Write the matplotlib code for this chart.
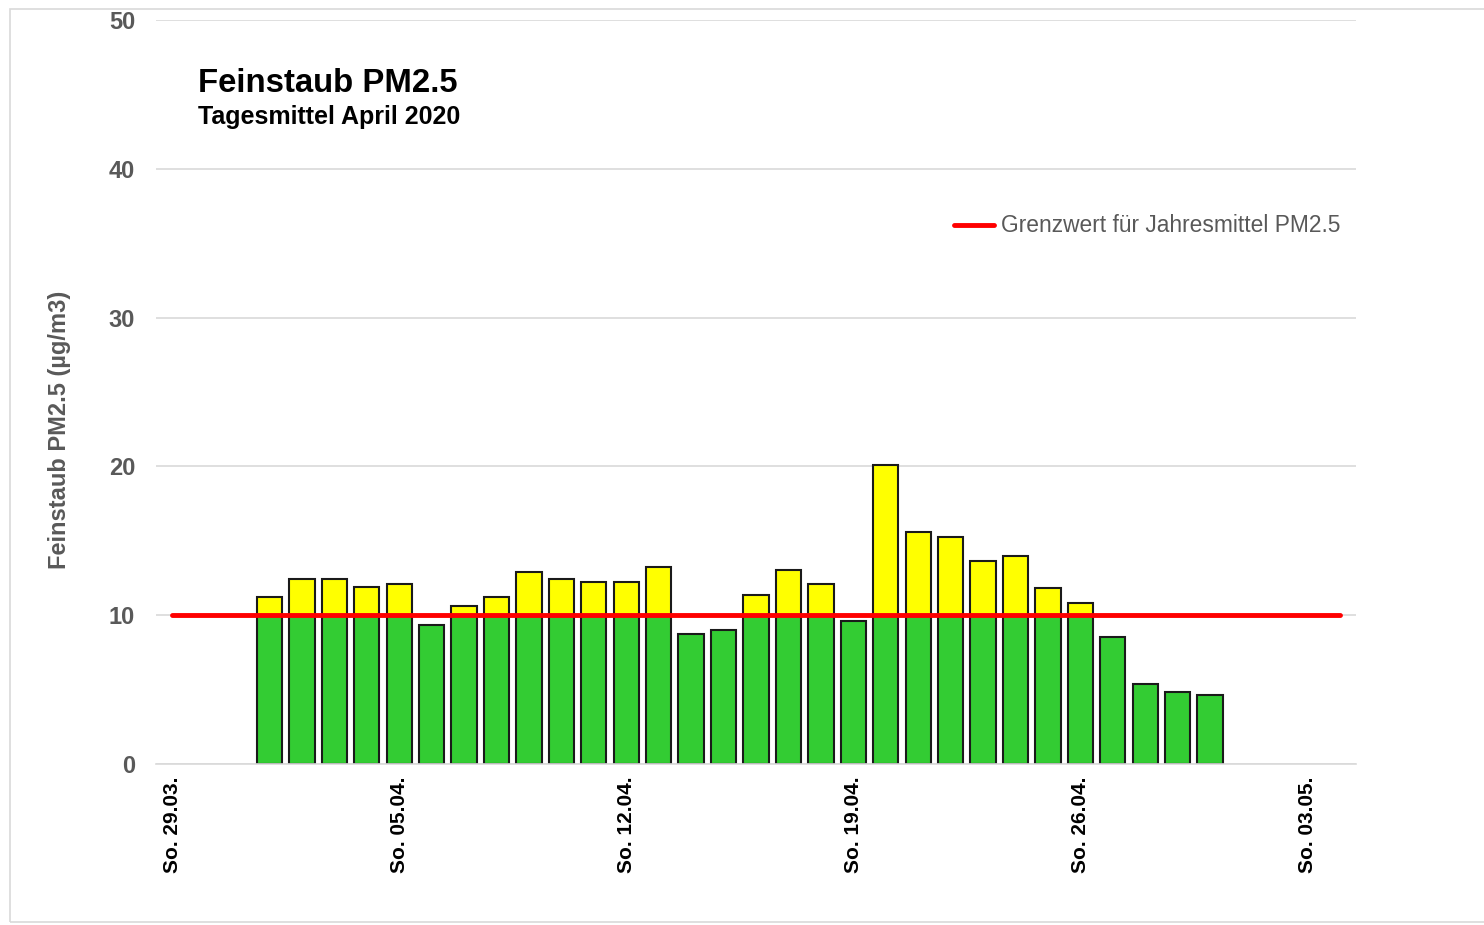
import matplotlib
matplotlib.use("Agg")
import matplotlib.pyplot as plt
from matplotlib.patches import Rectangle
import numpy as np

plt.rcParams['font.family'] = ['Liberation Sans', 'DejaVu Sans']

# --- data ---
# categories: every day from 29.03. to 04.05.
categories = ["29.03.", "30.03.", "31.03."] + \
             [f"{d:02d}.04." for d in range(1, 31)] + \
             ["01.05.", "02.05.", "03.05.", "04.05."]
weekday_prefix = "So. "

# daily means April 2020 (µg/m3), 01.04. - 30.04.
april_values = [11.25, 12.4, 12.4, 11.88, 12.08, 9.35, 10.6, 11.23, 12.93, 12.4,
                12.2, 12.2, 13.25, 8.72, 9.03, 11.37, 13.05, 12.1, 9.58, 20.1,
                15.56, 15.25, 13.67, 14.0, 11.8, 10.83, 8.52, 5.37, 4.86, 4.64]
values = [np.nan] * 3 + april_values + [np.nan] * 4

limit_value = 10.0
limit_label = "Grenzwert für Jahresmittel PM2.5"
title = "Feinstaub PM2.5"
subtitle = "Tagesmittel April 2020"
ylabel = "Feinstaub PM2.5 (µg/m3)"

# --- plot ---
fig = plt.figure(figsize=(14.84, 9.25), dpi=100)
ax = fig.add_axes([156 / 1484, 1 - 764 / 925, 1200 / 1484, 744 / 925])

# thin frame around the whole chart
fig.patches.append(Rectangle((10 / 1484, 3 / 925), 1.0, 913 / 925, transform=fig.transFigure,
                             fill=False, edgecolor="#D9D9D9", linewidth=1.2))

x = np.arange(len(categories))
vals = np.array(values, dtype=float)
green = np.minimum(vals, limit_value)
yellow = np.maximum(vals - limit_value, 0)

ax.bar(x, green, width=0.78, color="#33CC33", edgecolor="#1a1a1a", linewidth=1.5, zorder=2)
ax.bar(x, yellow, bottom=limit_value, width=0.78, color="#FFFF00", edgecolor="#1a1a1a",
       linewidth=1.5, zorder=2)

ax.plot(x, [limit_value] * len(x), color="#FF0000", linewidth=3.5, solid_capstyle="round",
        label=limit_label, zorder=3)

ax.set_xlim(-0.5, len(categories) - 0.5)
ax.set_ylim(0, 50)
ax.set_yticks([0, 10, 20, 30, 40, 50])
ax.yaxis.grid(True, color="#D9D9D9", linewidth=1.2, zorder=0)
ax.set_axisbelow(True)

tick_pos = x[::7]
ax.set_xticks(tick_pos)
ax.set_xticklabels([weekday_prefix + categories[i] for i in tick_pos], rotation=90,
                   fontsize=15, fontweight="bold", color="black")
ax.tick_params(axis="x", length=0, pad=9)
ax.tick_params(axis="y", length=0, pad=15, labelsize=17, labelcolor="#595959")
for lbl in ax.get_yticklabels():
    lbl.set_fontweight("bold")

for s in ["top", "right", "left"]:
    ax.spines[s].set_visible(False)
ax.spines["bottom"].set_color("#D9D9D9")
ax.spines["bottom"].set_linewidth(1.2)

ax.set_ylabel(ylabel, fontsize=17, fontweight="bold", color="#595959")
ax.yaxis.set_label_coords(-85 / 1200, (764 - 430) / 744)

ax.text(198 / 1484, 1 - 83 / 925, title, transform=fig.transFigure, fontsize=23.7,
        fontweight="bold", va="center", ha="left")
ax.text(198 / 1484, 1 - 117 / 925, subtitle, transform=fig.transFigure, fontsize=18,
        fontweight="bold", va="center", ha="left")

ax.legend(loc="upper right", bbox_to_anchor=(1361 / 1484, 1 - 194 / 925),
          bbox_transform=fig.transFigure, frameon=False, fontsize=16.4,
          labelcolor="#595959", handlelength=1.75, handletextpad=0.3)

fig.savefig("out.png", dpi=100)
